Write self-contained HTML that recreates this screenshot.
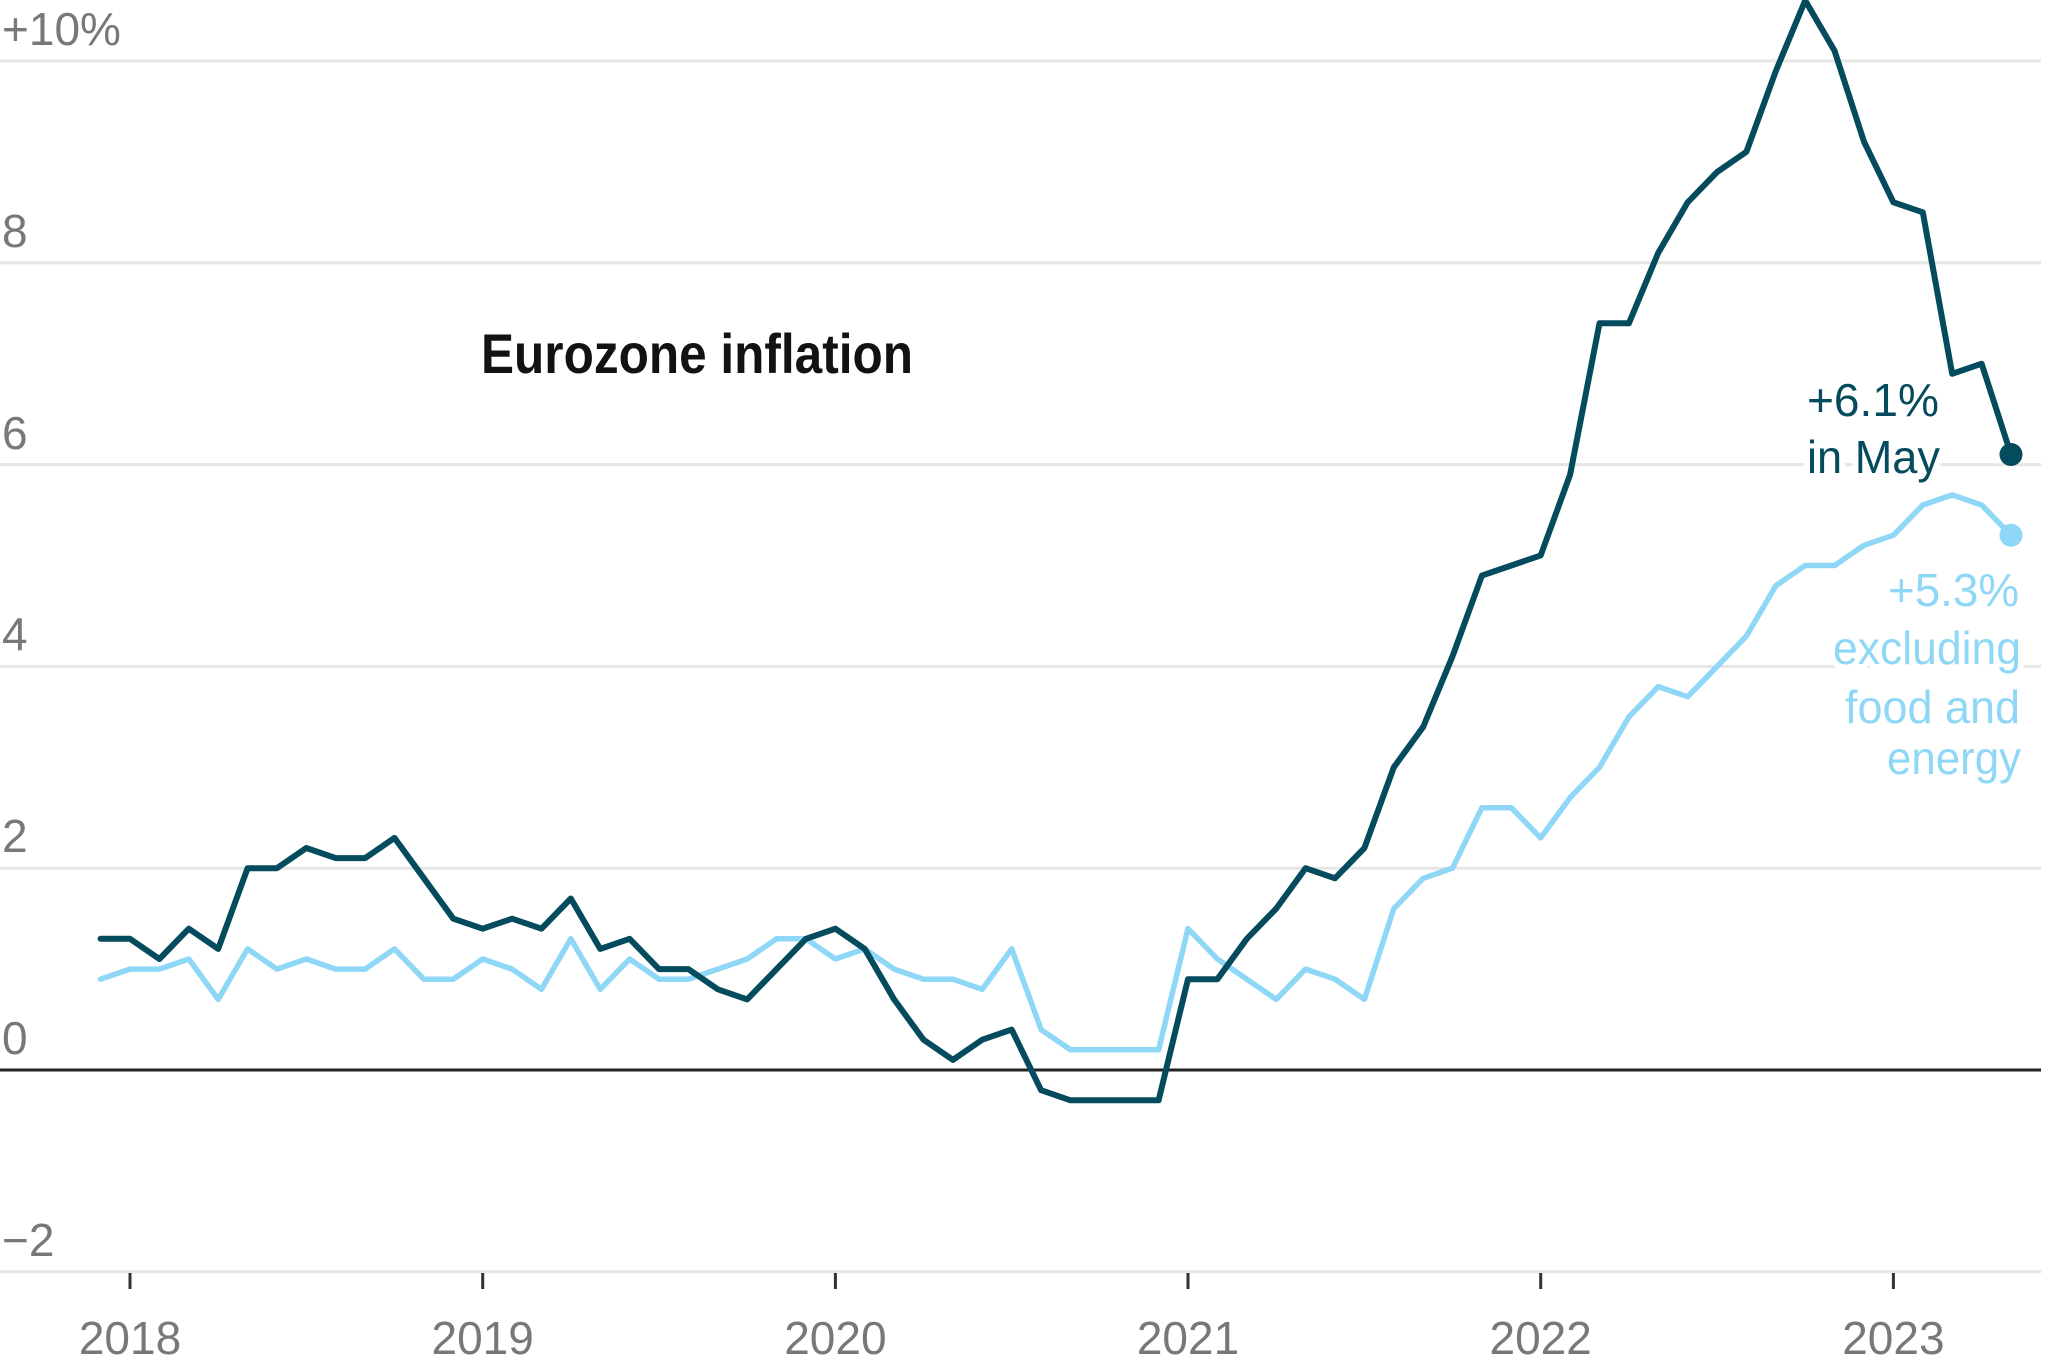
<!DOCTYPE html>
<html>
<head>
<meta charset="utf-8">
<style>
  html, body { margin: 0; padding: 0; background: #ffffff; }
  svg { display: block; }
  text { font-family: "Liberation Sans", "DejaVu Sans", sans-serif; }
</style>
</head>
<body>
<svg width="2048" height="1365" viewBox="0 0 2048 1365" xmlns="http://www.w3.org/2000/svg">
  <rect x="0" y="0" width="2048" height="1365" fill="#ffffff"/>

  <!-- gridlines -->
  <g stroke="#e6e6e6" stroke-width="3">
    <line x1="0" y1="61" x2="2041" y2="61"/>
    <line x1="0" y1="262.8" x2="2041" y2="262.8"/>
    <line x1="0" y1="464.6" x2="2041" y2="464.6"/>
    <line x1="0" y1="666.4" x2="2041" y2="666.4"/>
    <line x1="0" y1="868.2" x2="2041" y2="868.2"/>
    <line x1="0" y1="1271.8" x2="2041" y2="1271.8"/>
  </g>
  <!-- zero line -->
  <line x1="0" y1="1070" x2="2041" y2="1070" stroke="#222222" stroke-width="3"/>

  <!-- y labels -->
  <g fill="#787878" font-size="46">
    <text x="2" y="45">+10%</text>
    <text x="2" y="247">8</text>
    <text x="2" y="449">6</text>
    <text x="2" y="650">4</text>
    <text x="2" y="852">2</text>
    <text x="2" y="1054">0</text>
    <text x="2" y="1256">−2</text>
  </g>

  <!-- x ticks -->
  <g stroke="#333333" stroke-width="3">
    <line x1="130.0" y1="1273" x2="130.0" y2="1289"/>
    <line x1="482.7" y1="1273" x2="482.7" y2="1289"/>
    <line x1="835.4" y1="1273" x2="835.4" y2="1289"/>
    <line x1="1188.0" y1="1273" x2="1188.0" y2="1289"/>
    <line x1="1540.7" y1="1273" x2="1540.7" y2="1289"/>
    <line x1="1893.4" y1="1273" x2="1893.4" y2="1289"/>
  </g>
  <!-- x labels -->
  <g fill="#787878" font-size="46" text-anchor="middle">
    <text x="130.0" y="1354">2018</text>
    <text x="482.7" y="1354">2019</text>
    <text x="835.4" y="1354">2020</text>
    <text x="1188.0" y="1354">2021</text>
    <text x="1540.7" y="1354">2022</text>
    <text x="1893.4" y="1354">2023</text>
  </g>

  <!-- core series (excluding food and energy) -->
  <polyline fill="none" stroke="#8fd7f6" stroke-width="5.5" stroke-linejoin="round" stroke-linecap="round"
    points="100.6,979.2 130.0,969.1 159.4,969.1 188.8,959.0 218.2,999.4 247.6,948.9 276.9,969.1 306.3,959.0 335.7,969.1 365.1,969.1 394.5,948.9 423.9,979.2 453.3,979.2 482.7,959.0 512.1,969.1 541.5,989.3 570.8,938.8 600.2,989.3 629.6,959.0 659.0,979.2 688.4,979.2 717.8,969.1 747.2,959.0 776.6,938.8 806.0,938.8 835.4,959.0 864.7,948.9 894.1,969.1 923.5,979.2 952.9,979.2 982.3,989.3 1011.7,948.9 1041.1,1029.6 1070.5,1049.8 1099.9,1049.8 1129.3,1049.8 1158.6,1049.8 1188.0,928.7 1217.4,959.0 1246.8,979.2 1276.2,999.4 1305.6,969.1 1335.0,979.2 1364.4,999.4 1393.8,908.6 1423.2,878.3 1452.5,868.2 1481.9,807.7 1511.3,807.7 1540.7,837.9 1570.1,797.6 1599.5,767.3 1628.9,716.9 1658.3,686.6 1687.7,696.7 1717.1,666.4 1746.4,636.1 1775.8,585.7 1805.2,565.5 1834.6,565.5 1864.0,545.3 1893.4,535.2 1922.8,505.0 1952.2,494.9 1981.6,505.0 2011.0,535.2"/>

  <!-- headline series -->
  <polyline fill="none" stroke="#054b5e" stroke-width="6" stroke-linejoin="round" stroke-linecap="round"
    points="100.6,938.8 130.0,938.8 159.4,959.0 188.8,928.7 218.2,948.9 247.6,868.2 276.9,868.2 306.3,848.0 335.7,858.1 365.1,858.1 394.5,837.9 423.9,878.3 453.3,918.7 482.7,928.7 512.1,918.7 541.5,928.7 570.8,898.5 600.2,948.9 629.6,938.8 659.0,969.1 688.4,969.1 717.8,989.3 747.2,999.4 776.6,969.1 806.0,938.8 835.4,928.7 864.7,948.9 894.1,999.4 923.5,1039.7 952.9,1059.9 982.3,1039.7 1011.7,1029.6 1041.1,1090.2 1070.5,1100.3 1099.9,1100.3 1129.3,1100.3 1158.6,1100.3 1188.0,979.2 1217.4,979.2 1246.8,938.8 1276.2,908.6 1305.6,868.2 1335.0,878.3 1364.4,848.0 1393.8,767.3 1423.2,726.9 1452.5,656.3 1481.9,575.6 1511.3,565.5 1540.7,555.4 1570.1,474.7 1599.5,323.3 1628.9,323.3 1658.3,252.7 1687.7,202.3 1717.1,172.0 1746.4,151.8 1775.8,71.1 1805.2,0.5 1834.6,50.9 1864.0,141.7 1893.4,202.3 1922.8,212.3 1952.2,373.8 1981.6,363.7 2011.0,454.5"/>

  <!-- end dots -->
  <circle cx="2011" cy="535.2" r="11.5" fill="#8fd7f6"/>
  <circle cx="2011" cy="454.5" r="11.5" fill="#054b5e"/>

  <!-- title -->
  <text x="481" y="373" font-size="56" font-weight="bold" fill="#121212" textLength="432" lengthAdjust="spacingAndGlyphs">Eurozone inflation</text>

  <!-- headline annotation -->
  <g fill="#054b5e" font-size="46" stroke="#ffffff" stroke-width="12" stroke-linejoin="round" style="paint-order: stroke fill;">
    <text x="1807" y="416" textLength="132" lengthAdjust="spacingAndGlyphs">+6.1%</text>
    <text x="1807" y="473" textLength="133" lengthAdjust="spacingAndGlyphs">in May</text>
  </g>

  <!-- core annotation -->
  <g fill="#8fd7f6" font-size="46" stroke="#ffffff" stroke-width="12" stroke-linejoin="round" style="paint-order: stroke fill;">
    <text x="1888" y="606" textLength="131" lengthAdjust="spacingAndGlyphs">+5.3%</text>
    <text x="1833" y="664" textLength="188" lengthAdjust="spacingAndGlyphs">excluding</text>
    <text x="1845" y="723" textLength="175" lengthAdjust="spacingAndGlyphs">food and</text>
    <text x="1887" y="774" textLength="134" lengthAdjust="spacingAndGlyphs">energy</text>
  </g>
</svg>
</body>
</html>
